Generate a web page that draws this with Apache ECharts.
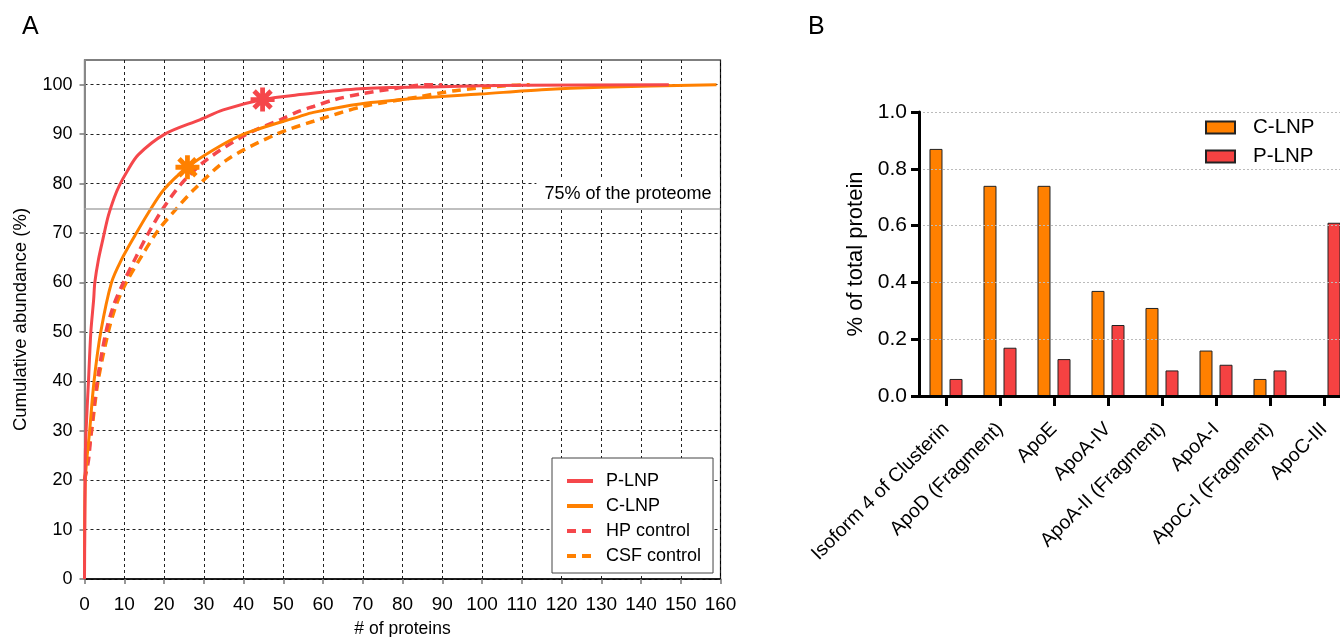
<!DOCTYPE html>
<html>
<head>
<meta charset="utf-8">
<script src="https://cdn.jsdelivr.net/npm/echarts@6/dist/echarts.min.js"></script>
<style>
  html, body { margin: 0; padding: 0; background: #fff; }
  #chart { width: 1340px; height: 637px; }
</style>
</head>
<body>
<div id="chart"></div>
<script>
// ---- panel A : cumulative abundance, [# of proteins, %]
var pLnpCurve = [[0,0],[0.2,25],[0.4,30],[1,40],[1.6,50],[2.3,56.5],[2.6,60],[3.5,64.6],[4.7,69],[6,73.5],[7.5,77.2],[8.7,79.5],[10.6,82.3],[13.5,85.8],[20.2,90],[29,92.9],[34.9,94.9],[44.8,97],[54.2,98],[69.3,99.2],[89.4,99.6],[110,99.9],[147,100]];
var cLnpCurve = [[0,0],[0.2,20],[1.3,30],[2.4,40],[4.1,50],[6.8,60],[9.3,64.6],[12.7,69.5],[16,74],[20,78.8],[25.9,83.3],[32.4,86.8],[40,90],[54.2,93.6],[57.6,94.4],[69.3,96.1],[84.4,97.3],[99.5,98.1],[115,99],[130,99.5],[159,100]];
var hpControl = [[0,20],[1,24],[1.7,30],[3.2,40],[5.4,50],[7.4,55.5],[9.8,60],[13,65.2],[16.1,70],[19.8,75],[24.4,80],[30.7,84.8],[40.8,90],[49.2,92.9],[54.2,94.7],[57.6,95.6],[63,97],[70,98.2],[78,99.2],[86,100],[90,100]];
var csfControl = [[0,20],[0.7,24],[1.8,30],[3.4,40],[6,50],[8,55.5],[10.5,60],[14.5,65.5],[18.5,70.5],[23.2,75],[27.8,79],[35.8,84.8],[48.3,90],[57.6,92.6],[70.1,95.6],[84.4,97.6],[93.2,98.8],[106,99.8],[112,100]];
var pLnpStar = [[44.8, 97]];
var cLnpStar = [[25.9, 83.3]];
var proteomeLine = 75;
var xTicksA = [0,10,20,30,40,50,60,70,80,90,100,110,120,130,140,150,160];
var yTicksA = [0,10,20,30,40,50,60,70,80,90,100];

// ---- panel B : % of total protein
var categoriesB = ['Isoform 4 of Clusterin', 'ApoD (Fragment)', 'ApoE', 'ApoA-IV', 'ApoA-II (Fragment)', 'ApoA-I', 'ApoC-I (Fragment)', 'ApoC-III'];
var cLnpBars = [0.87, 0.74, 0.74, 0.37, 0.31, 0.16, 0.06, 0];
var pLnpBars = [0.06, 0.17, 0.13, 0.25, 0.09, 0.11, 0.09, 0.61];
var yTicksB = [0, 0.2, 0.4, 0.6, 0.8, 1.0];

var RED = '#F5474B';
var ORANGE = '#FF8000';
var FONT = 'Liberation Sans, Arial, sans-serif';

// asterisk marker: four bars through the centre
function asteriskPath() {
  var parts = [];
  [0, 45, 90, 135].forEach(function (deg) {
    var a = deg * Math.PI / 180;
    var dx = Math.cos(a), dy = Math.sin(a), nx = -dy, ny = dx;
    var L = 50, w = 10;
    var pts = [
      [50 + L * dx + w * nx, 50 + L * dy + w * ny],
      [50 + L * dx - w * nx, 50 + L * dy - w * ny],
      [50 - L * dx - w * nx, 50 - L * dy - w * ny],
      [50 - L * dx + w * nx, 50 - L * dy + w * ny]
    ];
    parts.push('M' + pts.map(function (p) { return p[0].toFixed(2) + ' ' + p[1].toFixed(2); }).join(' L') + ' Z');
  });
  return 'path://' + parts.join(' ');
}
var STAR = asteriskPath();

var chart = echarts.init(document.getElementById('chart'));

var option = {
  animation: false,
  textStyle: { fontFamily: FONT },
  title: [
    { text: 'A', left: 17, top: 10, textStyle: { fontSize: 25, fontWeight: 'normal', color: '#000', fontFamily: FONT } },
    { text: 'B', left: 803, top: 10, textStyle: { fontSize: 25, fontWeight: 'normal', color: '#000', fontFamily: FONT } }
  ],
  legend: [
    {
      data: ['P-LNP', 'C-LNP', 'HP control', 'CSF control'],
      orient: 'vertical',
      left: 552, top: 458,
      padding: [14, 12, 8, 13],
      itemWidth: 26, itemHeight: 14, itemGap: 7,
      borderColor: '#444', borderWidth: 1,
      backgroundColor: '#fff',
      itemStyle: { opacity: 0 },
      lineStyle: { width: 4 },
      textStyle: { fontSize: 18, color: '#000', padding: [0, 0, 0, 8] }
    },
    {
      data: ['C-LNP ', 'P-LNP '],
      orient: 'vertical',
      left: 1200, top: 112,
      itemWidth: 29, itemHeight: 12, itemGap: 8,
      icon: 'rect',
      textStyle: { fontSize: 20.5, color: '#000', padding: [0, 0, 0, 13] }
    }
  ],
  grid: [
    { left: 84.5, top: 60, right: 619.5, bottom: 58, outerBoundsMode: 'none', show: true, borderColor: '#000', borderWidth: 1.2, backgroundColor: 'transparent' },
    { left: 919, top: 112, right: -11, bottom: 241, outerBoundsMode: 'none' }
  ],
  xAxis: [
    {
      gridIndex: 0, type: 'value', min: 0, max: 160, interval: 10,
      name: '# of proteins', nameLocation: 'middle', nameGap: 41,
      nameTextStyle: { fontSize: 17.5, color: '#000' },
      axisLine: { lineStyle: { color: '#000', width: 1.5 } },
      axisTick: { show: true, length: 5, lineStyle: { color: '#777', width: 1.5 }, customValues: xTicksA },
      axisLabel: { fontSize: 19, color: '#000', margin: 16, customValues: xTicksA },
      splitLine: { show: true, lineStyle: { color: '#222', type: [3, 3], width: 1 } }
    },
    {
      gridIndex: 1, type: 'category', data: categoriesB, z: 10,
      axisLine: { lineStyle: { color: '#000', width: 3 } },
      axisTick: { show: true, alignWithLabel: true, length: 10, lineStyle: { color: '#000', width: 3 } },
      axisLabel: { rotate: 45, fontSize: 19.5, color: '#000', margin: 30, interval: 0 },
      splitLine: { show: false }
    }
  ],
  yAxis: [
    {
      gridIndex: 0, type: 'value', min: 0, max: 105, interval: 10,
      name: 'Cumulative abundance (%)', nameLocation: 'middle', nameGap: 54,
      nameTextStyle: { fontSize: 18.5, color: '#000' },
      axisLine: { show: true, lineStyle: { color: '#888', width: 2 } },
      axisTick: { show: true, length: 5, lineStyle: { color: '#777', width: 1.5 }, customValues: yTicksA },
      axisLabel: {
        fontSize: 18, color: '#000', margin: 12, customValues: yTicksA,
        formatter: function (v) { return v > 100 ? '' : String(v); }
      },
      splitLine: { show: true, lineStyle: { color: '#222', type: [3, 3], width: 1 } }
    },
    {
      gridIndex: 1, type: 'value', min: 0, max: 1, interval: 0.2, z: 10,
      name: '% of total protein', nameLocation: 'middle', nameGap: 52,
      nameTextStyle: { fontSize: 22, color: '#000' },
      axisLine: { show: true, lineStyle: { color: '#000', width: 3 } },
      axisTick: { show: true, length: 8, lineStyle: { color: '#000', width: 3 }, customValues: yTicksB },
      axisLabel: {
        fontSize: 21, color: '#000', margin: 12, customValues: yTicksB,
        formatter: function (v) { return v.toFixed(1); }
      },
      splitLine: { show: true, lineStyle: { color: '#bbb', type: [2, 2], width: 1 } }
    }
  ],
  series: [
    {
      name: 'P-LNP', type: 'line', xAxisIndex: 0, yAxisIndex: 0,
      data: pLnpCurve, symbol: 'none', smooth: 0.3,
      lineStyle: { color: RED, width: 3 }, itemStyle: { color: RED }, z: 5,
      markLine: {
        silent: true, symbol: 'none',
        lineStyle: { color: '#aaa', width: 1.5, type: 'solid' },
        label: {
          show: true, position: 'insideEndTop', formatter: '75% of the proteome',
          fontSize: 18, color: '#000', backgroundColor: '#fff',
          padding: [8, 8, 4, 8], distance: 1
        },
        data: [{ yAxis: proteomeLine }]
      }
    },
    {
      name: 'C-LNP', type: 'line', xAxisIndex: 0, yAxisIndex: 0,
      data: cLnpCurve, symbol: 'none', smooth: 0.3,
      lineStyle: { color: ORANGE, width: 3 }, itemStyle: { color: ORANGE }, z: 4
    },
    {
      name: 'HP control', type: 'line', xAxisIndex: 0, yAxisIndex: 0,
      data: hpControl, symbol: 'none', smooth: 0.3,
      lineStyle: { color: RED, width: 3.5, type: [9, 6] }, itemStyle: { color: RED }, z: 3
    },
    {
      name: 'CSF control', type: 'line', xAxisIndex: 0, yAxisIndex: 0,
      data: csfControl, symbol: 'none', smooth: 0.3,
      lineStyle: { color: ORANGE, width: 3.5, type: [9, 6] }, itemStyle: { color: ORANGE }, z: 2
    },
    {
      name: 'P-LNP star', type: 'scatter', xAxisIndex: 0, yAxisIndex: 0,
      data: pLnpStar, symbol: STAR, symbolSize: 24, itemStyle: { color: RED, opacity: 1 }, z: 6
    },
    {
      name: 'C-LNP star', type: 'scatter', xAxisIndex: 0, yAxisIndex: 0,
      data: cLnpStar, symbol: STAR, symbolSize: 24, itemStyle: { color: ORANGE, opacity: 1 }, z: 6
    },
    {
      name: 'C-LNP ', type: 'bar', xAxisIndex: 1, yAxisIndex: 1,
      data: cLnpBars, barWidth: 13, barGap: '54%',
      itemStyle: { color: ORANGE, borderColor: '#222', borderWidth: 1 }
    },
    {
      name: 'P-LNP ', type: 'bar', xAxisIndex: 1, yAxisIndex: 1,
      data: pLnpBars, barWidth: 13, barGap: '54%',
      itemStyle: { color: '#F54242', borderColor: '#222', borderWidth: 1 }
    }
  ]
};

chart.setOption(option);
</script>
</body>
</html>
